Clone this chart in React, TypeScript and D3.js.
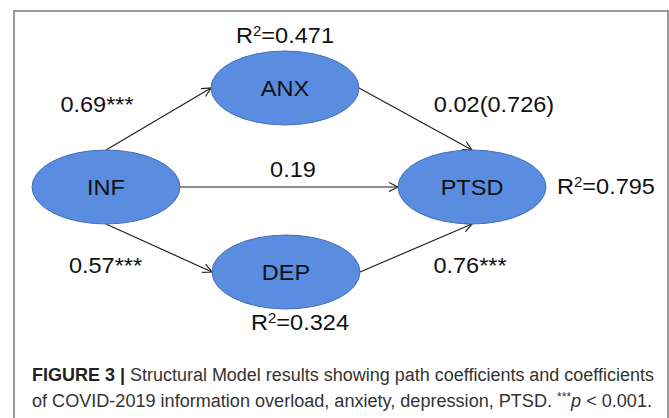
import React, { useEffect, useRef } from "react";
import * as d3 from "d3";

// structural model: latent constructs and paths
const nodes = ["INF", "ANX", "DEP", "PTSD"];
const rSquared = [null, "0.471", "0.324", "0.795"];
const pathFrom = ["INF", "ANX", "INF", "INF", "DEP"];
const pathTo = ["ANX", "PTSD", "PTSD", "DEP", "PTSD"];
const pathLabels = ["0.69***", "0.02(0.726)", "0.19", "0.57***", "0.76***"];
const captionBold = "FIGURE 3 |";
const captionLine1 = " Structural Model results showing path coefficients and coefficients";
const captionLine2 = "of COVID-2019 information overload, anxiety, depression, PTSD. ";

const W = 669;
const H = 418;
const RX = 74;
const RY = 37;
const FONT = "'Liberation Sans', Arial, Helvetica, sans-serif";
const STRETCH = 1.07; // source figure is a bit wider than tall

const App = () => {
  const ref = useRef<SVGSVGElement>(null);

  useEffect(() => {
    const svg = d3.select(ref.current);
    svg.selectAll("*").remove();

    const cx = d3.scaleOrdinal<string, number>().domain(nodes).range([106, 285, 286, 472]);
    const cy = d3.scaleOrdinal<string, number>().domain(nodes).range([187, 88, 272, 187]);

    svg.append("rect")
      .attr("width", W).attr("height", H).attr("fill", "#fff");

    // frame
    svg.append("rect")
      .attr("x", 14).attr("y", 11)
      .attr("width", 654).attr("height", H + 20)
      .attr("fill", "none")
      .attr("stroke", "#7a7a7a")
      .attr("stroke-width", 1.5);

    svg.append("defs").append("marker")
      .attr("id", "arr")
      .attr("markerUnits", "userSpaceOnUse")
      .attr("markerWidth", 14).attr("markerHeight", 12)
      .attr("viewBox", "-12 -6 14 12")
      .attr("refX", 0).attr("refY", 0)
      .attr("orient", "auto")
      .append("path")
      .attr("d", "M-9,-4.5L0,0L-9,4.5")
      .attr("fill", "none")
      .attr("stroke", "#222")
      .attr("stroke-width", 1.2);

    const port = (n: string, side: string) => {
      const x = cx(n), y = cy(n);
      if (side === "right") return [x + RX, y];
      if (side === "left") return [x - RX, y];
      if (side === "top") return [x, y - RY];
      return [x, y + RY];
    };

    const edges = pathFrom.map((s, i) => {
      const t = pathTo[i];
      const dy = cy(t) - cy(s);
      let a: number[], b: number[];
      if (Math.abs(dy) < 5) {
        a = port(s, "right"); b = port(t, "left");
      } else if (s === nodes[0]) {
        a = port(s, dy < 0 ? "top" : "bottom"); b = port(t, "left");
      } else {
        a = port(s, "right"); b = port(t, dy < 0 ? "bottom" : "top");
      }
      return { a, b, label: pathLabels[i] };
    });

    // label placement relative to the edge midpoint
    const labelShift = [[-61.5, -7], [78.5, -7], [4, -10], [-53.5, 25], [54, 25]];

    const line = d3.line();
    svg.append("g").selectAll("path")
      .data(edges)
      .enter()
      .append("path")
      .attr("d", d => line([d.a as [number, number], d.b as [number, number]]))
      .attr("stroke", "#222")
      .attr("stroke-width", 1.2)
      .attr("fill", "none")
      .attr("marker-end", "url(#arr)");

    const txt = (x: number, y: number, anchor: string) =>
      svg.append("text")
        .attr("transform", `translate(${x},${y}) scale(${STRETCH},1)`)
        .attr("text-anchor", anchor)
        .attr("font-family", FONT)
        .attr("font-size", 22)
        .attr("fill", "#111");

    edges.forEach((e, i) => {
      const mx = (e.a[0] + e.b[0]) / 2 + labelShift[i][0];
      const my = (e.a[1] + e.b[1]) / 2 + labelShift[i][1];
      txt(mx, my, "middle").text(e.label);
    });

    // ellipses
    svg.append("g").selectAll("ellipse")
      .data(nodes)
      .enter()
      .append("ellipse")
      .attr("cx", d => cx(d))
      .attr("cy", d => cy(d))
      .attr("rx", RX)
      .attr("ry", RY)
      .attr("fill", "#5a8de0")
      .attr("stroke", "#4570b8")
      .attr("stroke-width", 1);

    nodes.forEach(n => {
      txt(cx(n), cy(n) + 8, "middle").text(n);
    });

    // R squared labels
    const r2 = (x: number, y: number, anchor: string, v: string) => {
      const t = txt(x, y, anchor);
      t.append("tspan").text("R");
      t.append("tspan").attr("font-size", 14).attr("dy", -7).text("2");
      t.append("tspan").attr("dy", 7).text("=" + v);
    };
    nodes.forEach((n, i) => {
      const v = rSquared[i];
      if (!v) return;
      if (n === "ANX") r2(cx(n), cy(n) - 45, "middle", v);
      else if (n === "DEP") r2(cx(n) + 14, cy(n) + 58, "middle", v);
      else r2(cx(n) + RX + 11, cy(n) + 7, "start", v);
    });

    // caption
    const c1 = svg.append("text")
      .attr("x", 32).attr("y", 381)
      .attr("font-family", FONT)
      .attr("font-size", 18)
      .attr("fill", "#333")
      .attr("textLength", 622)
      .attr("lengthAdjust", "spacingAndGlyphs");
    c1.append("tspan").attr("font-weight", "bold").attr("fill", "#222").text(captionBold);
    c1.append("tspan").text(captionLine1);

    const c2 = svg.append("text")
      .attr("x", 32).attr("y", 407)
      .attr("font-family", FONT)
      .attr("font-size", 18)
      .attr("fill", "#333")
      .attr("textLength", 620)
      .attr("lengthAdjust", "spacingAndGlyphs");
    c2.append("tspan").text(captionLine2);
    c2.append("tspan").attr("font-size", 12).attr("dy", -6).text("***");
    c2.append("tspan").attr("font-style", "italic").attr("dy", 6).text("p");
    c2.append("tspan").text(" < 0.001.");
  }, []);

  return (
    <svg
      ref={ref}
      width={W}
      height={H}
      style={{ position: "absolute", left: 0, top: 0, display: "block" }}
    />
  );
};

export default App;
